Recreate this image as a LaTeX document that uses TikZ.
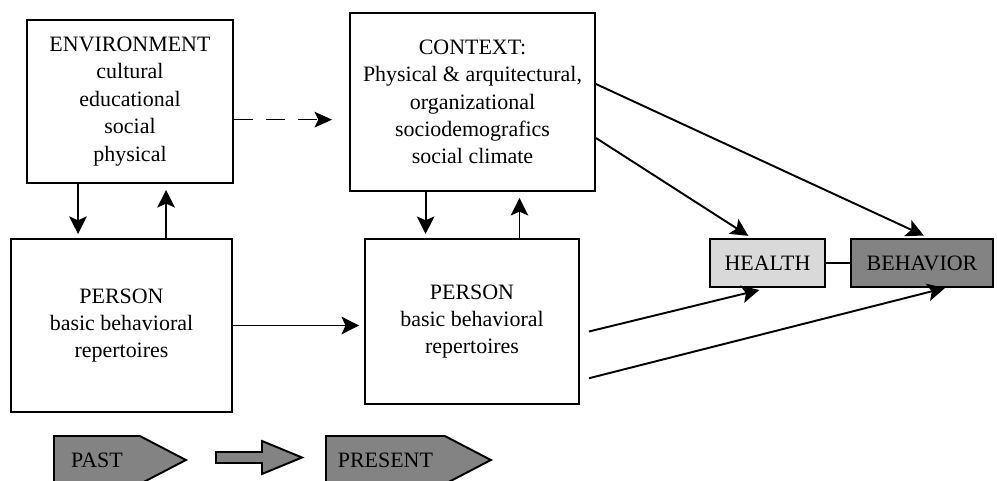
\documentclass[tikz,border=0pt]{standalone}
\usepackage{fontspec}
\setmainfont{Liberation Serif}
\newfontfamily\boxfont{Liberation Serif}
\usetikzlibrary{calc,arrows.meta,shapes.symbols}

\definecolor{darkfill}{HTML}{838383}
\definecolor{lightfill}{HTML}{D9D9D9}

\tikzset{
    box/.style={draw=black, line width=1.1pt, fill=white, align=center, inner sep=0pt,
        font=\boxfont\fontsize{12.5}{15.6}\selectfont},
    arr/.style={line width=1.1pt, -{Stealth[length=10pt,width=10pt,inset=2.2pt]}},
    dasharr/.style={line width=0.6pt, dash pattern=on 0.38cm off 0.26cm,
        -{Stealth[length=10pt,width=9pt,inset=2.2pt]}},
    era/.style={signal, signal to=east, signal from=nowhere, signal pointer angle=55,
        draw=black, line width=1.1pt, fill=darkfill, inner sep=0pt,
        minimum height=0.96cm, font=\boxfont\fontsize{12.5}{15.6}\selectfont}
}

\begin{document}
\begin{tikzpicture}[x=0.02cm, y=-0.02cm]
    \useasboundingbox (0,0) rectangle (997,480);

    \node[box, minimum width=4.12cm, minimum height=3.26cm] (env) at (130,101.5)
        {ENVIRONMENT\\cultural\\educational\\social\\physical};
    \node[box, minimum width=4.9cm, minimum height=3.56cm] (context) at (472.5,102)
        {CONTEXT:\\Physical \& arquitectural,\\organizational\\sociodemografics\\social climate};

    \node[box, minimum width=4.42cm, minimum height=3.46cm] (lperson) at (121.5,325.5)
        {PERSON\\basic behavioral\\repertoires};
    \node[box, minimum width=4.28cm, minimum height=3.3cm] (cperson) at (472,321.5)
        {PERSON\\basic behavioral\\repertoires};

    \node[box, fill=lightfill, minimum width=2.3cm, minimum height=0.96cm] (health) at (767.5,263) {HEALTH};
    \node[box, fill=darkfill, minimum width=2.84cm, minimum height=0.96cm] (behavior) at (922,263) {BEHAVIOR};

    \node[era, minimum width=2.64cm, anchor=west] (past) at (53,460) {PAST};
    \node[era, minimum width=3.3cm, anchor=west] (present) at (325,460) {PRESENT};

    % block arrow between past and present
    \draw[line width=1.1pt, fill=darkfill] (216,452) -- (262,452) -- (262,441) -- (302,457.5)
        -- (262,474) -- (262,463) -- (216,463) -- cycle;

    % environment <-> person
    \draw[arr, shorten >=2.3pt] ($(env.south west)!.25!(env.south east)$) coordinate (ed) -- (ed |- lperson.north);
    \draw[arr, shorten >=3.4pt] ($(lperson.north west)!.7!(lperson.north east)$) coordinate (eu) -- (eu |- env.south);

    % context <-> person
    \draw[arr, shorten >=2.3pt] ($(context.south west)!.31!(context.south east)$) coordinate (cd) -- (cd |- cperson.north);
    \draw[arr, shorten >=3.4pt] ($(cperson.north west)!.72!(cperson.north east)$) coordinate (cu) -- (cu |- context.south);

    \draw[arr, shorten >=2.8pt] (lperson.east) -- (lperson.east -| cperson.west);
    \draw[dasharr, shorten >=9.7pt] ($(env.north east)!.61!(env.south east)$) coordinate (ec) -- (ec -| context.west);

    % towards health and behavior
    \draw[arr, shorten >=3.4pt] ($(context.north east)!.4!(context.south east)$)
        -- ($(behavior.north west)!.55!(behavior.north east)$);
    \draw[arr, shorten >=2.3pt] ($(context.north east)!.7!(context.south east)$)
        -- ($(health.north west)!.365!(health.north east)$);
    \draw[arr] ($(cperson.north east)!.56!(cperson.south east)+(9,0)$)
        -- ($(health.south west)!.43!(health.south east)+(0,2)$);
    \draw[arr] ($(cperson.north east)!.84!(cperson.south east)+(9,0)$)
        -- ($(behavior.south west)!.66!(behavior.south east)$);

    \draw[line width=1.1pt] (health.east) -- (behavior.west);
\end{tikzpicture}
\end{document}
